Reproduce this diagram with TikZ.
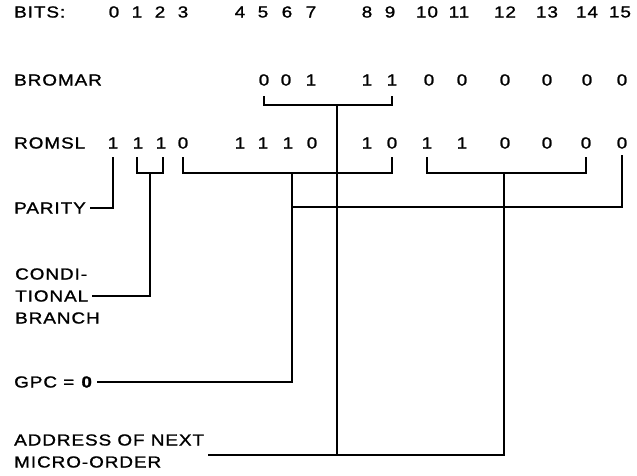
\documentclass[tikz,border=0pt]{standalone}
\usepackage{fontspec}
\setmainfont{Liberation Sans}[LetterSpace=6,FakeStretch=1.18,FakeBold=1.2]
\begin{document}
\begin{tikzpicture}[x=1pt,y=-1pt,
  every node/.style={inner sep=0pt,font=\fontsize{16}{18}\selectfont},
  lbl/.style={anchor=west},
  dig/.style={anchor=center},
  wire/.style={line width=1.6pt}]
\useasboundingbox (0,0) rectangle (637,475);
% row labels
\node[lbl] (bits) at (14,12) {BITS:};
\node[lbl] (bromar) at (14,80) {BROMAR};
\node[lbl] (romsl) at (14,143) {ROMSL};
\node[lbl] (parity) at (14,208) {PARITY};
\node[lbl] (cond1) at (15,274) {CONDI-};
\node[lbl] (cond2) at (15,296) {TIONAL};
\node[lbl] (cond3) at (15,318) {BRANCH};
\node[lbl] (gpc) at (14,382) {GPC = \textbf{0}};
\node[lbl] (addr1) at (14,440) {ADDRESS OF NEXT};
\node[lbl] (addr2) at (14,462) {MICRO-ORDER};
% bit numbers
\foreach \i/\x in {0/114,1/137,2/160,3/183,4/240,5/263,6/287,7/311,8/367,9/390,10/427,11/459,12/505,13/547,14/587,15/620}
  \node[dig] (n\i) at (\x,12) {\i};
% BROMAR digits
\foreach \i/\x/\v in {5/264/0,6/286/0,7/311/1,8/367/1,9/392/1,10/429/0,11/462/0,12/505/0,13/547/0,14/587/0,15/622/0}
  \node[dig] (b\i) at (\x,80) {\v};
% ROMSL digits
\foreach \i/\x/\v in {0/113/1,1/138/1,2/161/1,3/183/0,4/240/1,5/263/1,6/288/1,7/312/0,8/367/1,9/392/0,10/427/1,11/462/1,12/505/0,13/547/0,14/586/0,15/622/0}
  \node[dig] (r\i) at (\x,143) {\v};
% levels and trunks
\coordinate (yBt) at (0,96);
\coordinate (yBb) at (0,105);
\coordinate (yRt) at (0,157);
\coordinate (yRb) at (0,173);
\coordinate (y15t) at (0,155);
\coordinate (y15b) at (0,207);
\coordinate (ybot) at (0,455);
\coordinate (tA) at (337,0);
\coordinate (tB) at (292,0);
\coordinate (tC) at (504,0);
\coordinate (tD) at (150,0);
\coordinate (cl1) at (137,0);
\coordinate (cl2) at (163,0);
\coordinate (addrend) at ([xshift=4pt]addr1.east |- ybot);
% BROMAR bracket and trunk
\draw[wire] (b5 |- yBt) -- (b5 |- yBb) -- (b9 |- yBb) -- (b9 |- yBt);
\draw[wire] (tA |- yBb) -- (tA |- ybot);
% ROMSL bits 3-9 -> GPC = 0
\draw[wire] (r3 |- yRt) -- (r3 |- yRb) -- (r9 |- yRb) -- (r9 |- yRt);
\draw[wire] (tB |- yRb) -- (tB |- gpc) -- ([xshift=4pt]gpc.east);
% bit 15
\draw[wire] (r15 |- y15t) -- (r15 |- y15b) -- (tB |- y15b);
% ROMSL bits 10-14 -> address
\draw[wire] (r10 |- yRt) -- (r10 |- yRb) -- (r14 |- yRb) -- (r14 |- yRt);
\draw[wire] (tC |- yRb) -- (tC |- ybot) -- (addrend);
% parity
\draw[wire] (r0 |- yRt) -- (r0 |- parity) -- ([xshift=4pt]parity.east);
% conditional branch
\draw[wire] (cl1 |- yRt) -- (cl1 |- yRb) -- (cl2 |- yRb) -- (cl2 |- yRt);
\draw[wire] (tD |- yRb) -- (tD |- cond2) -- ([xshift=4pt]cond2.east);
\end{tikzpicture}
\end{document}
